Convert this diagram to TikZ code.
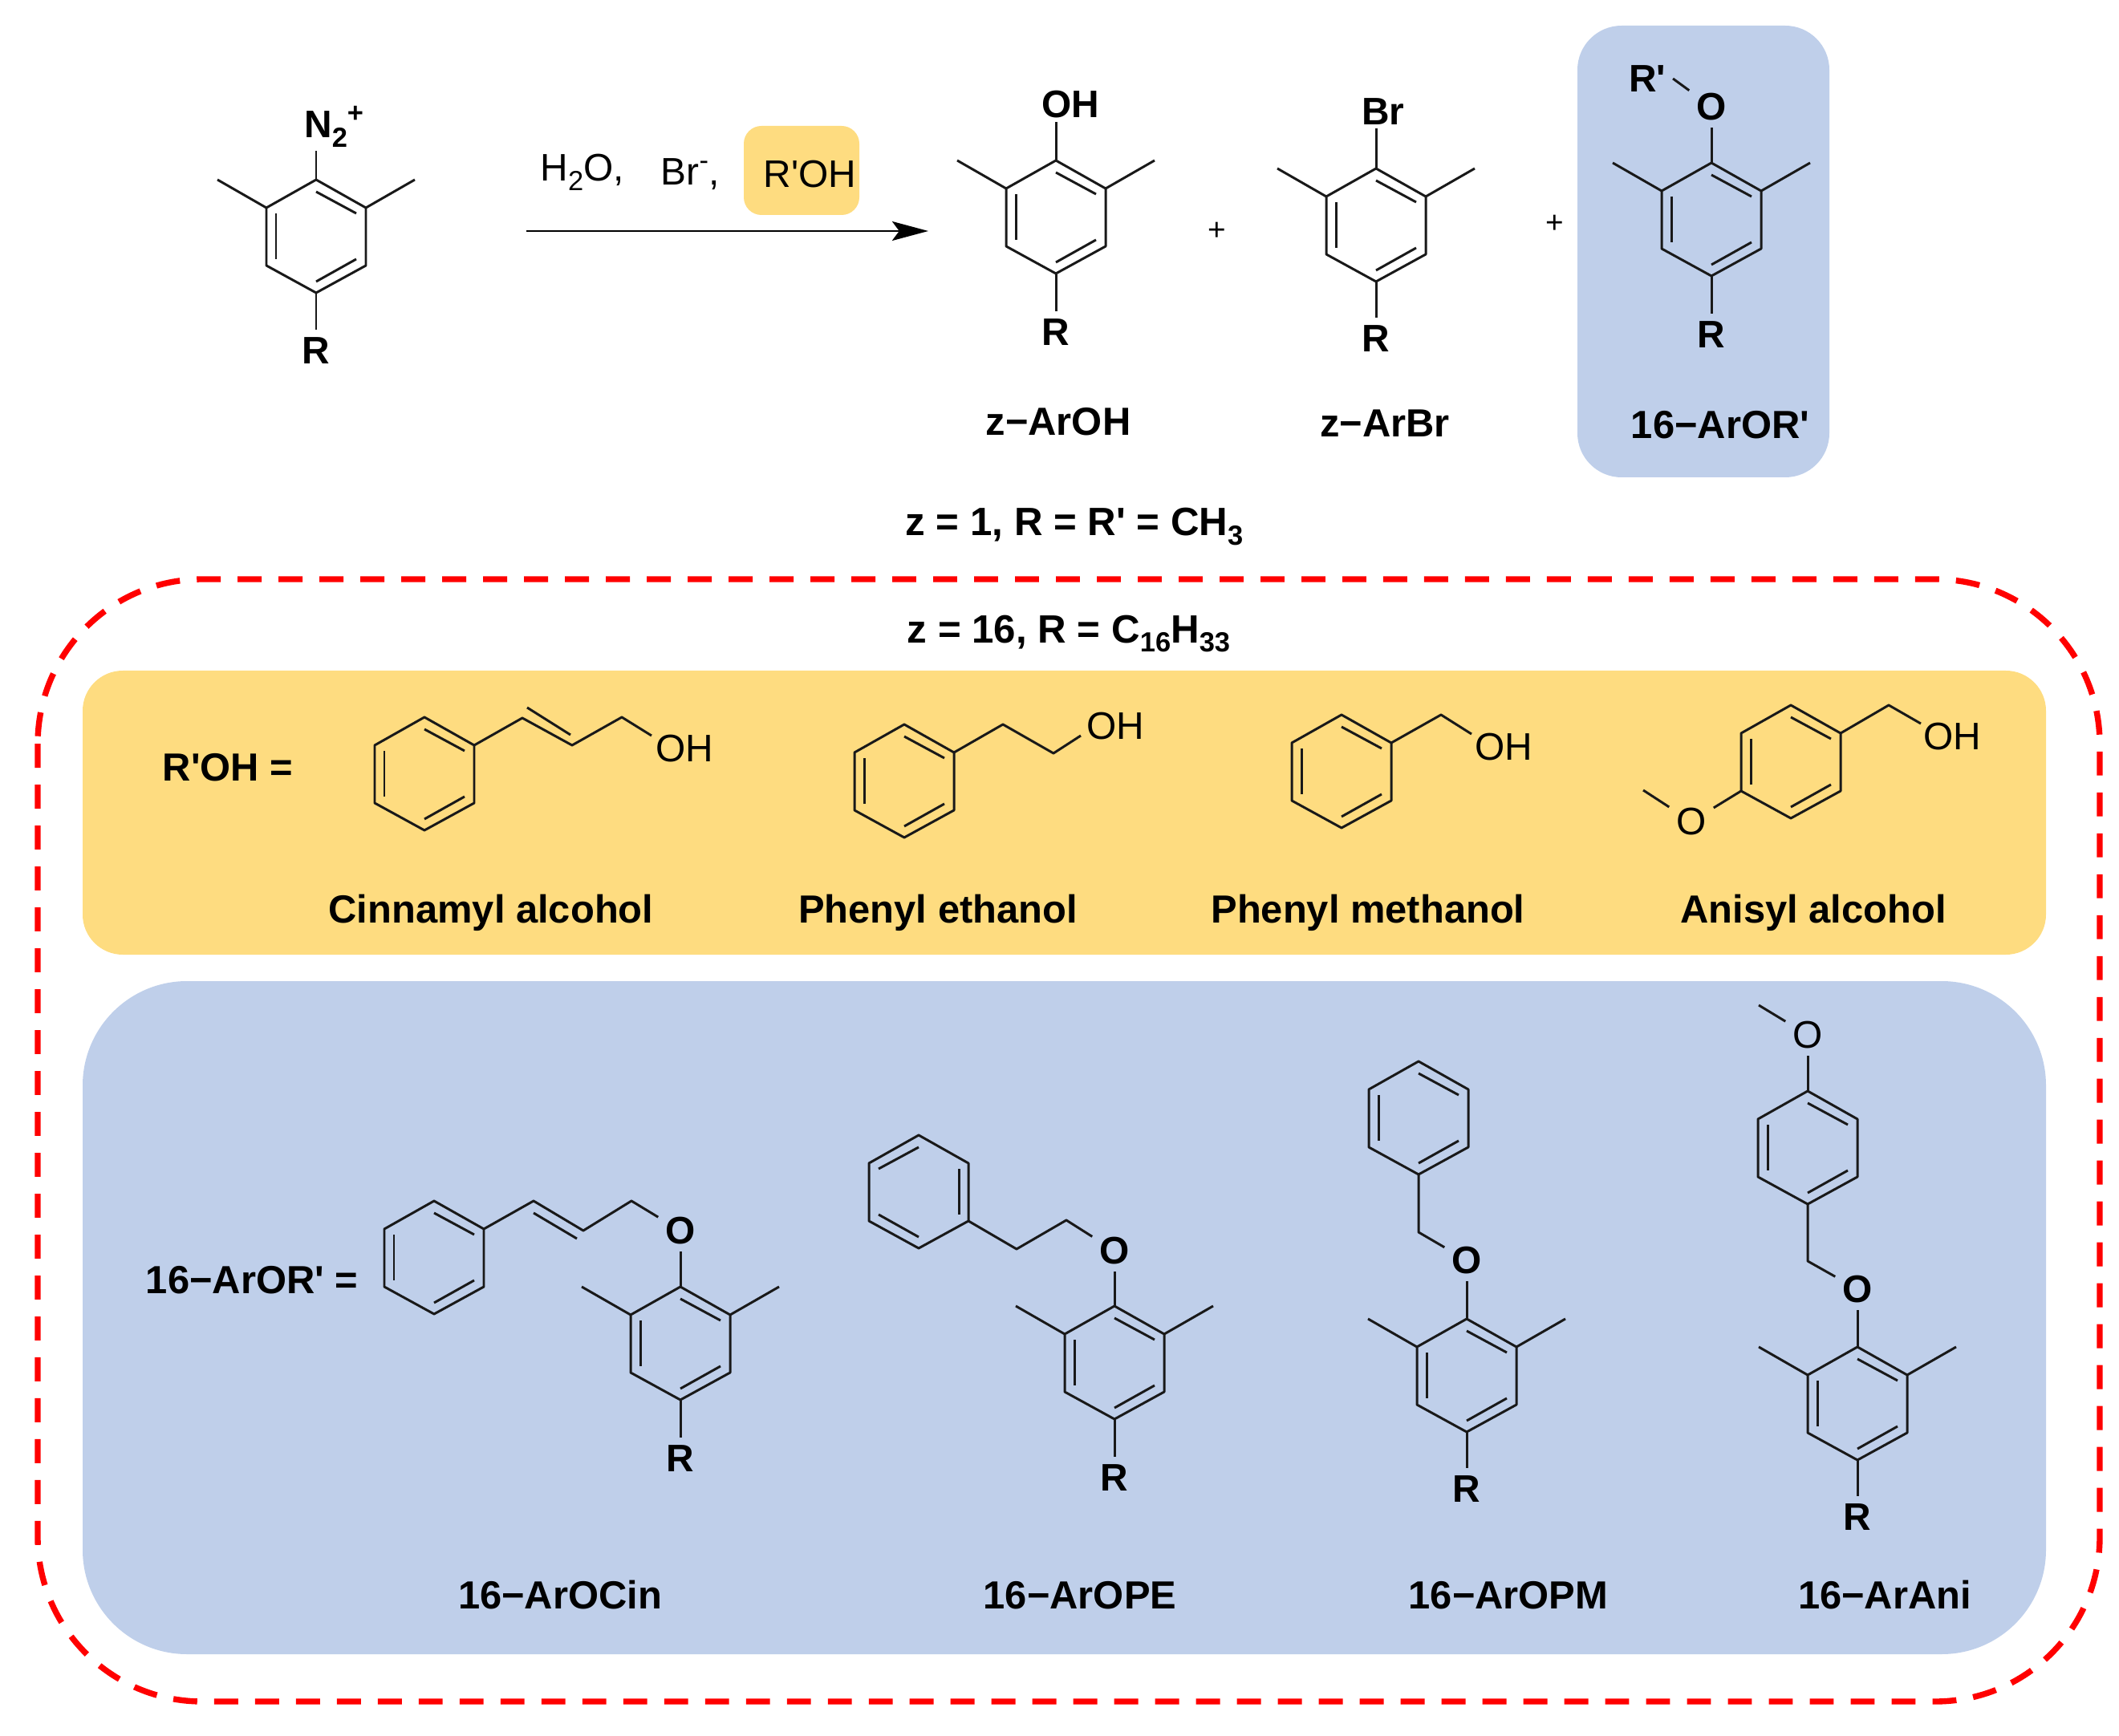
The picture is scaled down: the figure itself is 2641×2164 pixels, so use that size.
\documentclass[tikz,border=0pt]{standalone}
\usepackage{fontspec}
\setmainfont{Liberation Sans}[Ligatures=TeXOff]
\usetikzlibrary{arrows.meta}
\definecolor{panelyellow}{RGB}{254,220,128}
\definecolor{panelblue}{RGB}{191,207,234}
\newcommand{\subs}[1]{\raisebox{-3.4pt}{\fontsize{9.8pt}{10pt}\selectfont #1}}
\newcommand{\sups}[1]{\raisebox{5.5pt}{\fontsize{9.8pt}{10pt}\selectfont #1}}
\tikzset
{
	bond/.style = {line width=0.85pt, line join=round, color=black!90},
	atomlab/.style = {font=\fontsize{13.6pt}{15pt}\selectfont\bfseries, inner sep=2.4pt},
	thinlab/.style = {font=\fontsize{13.6pt}{15pt}\selectfont, inner sep=2.4pt},
	namelab/.style = {font=\fontsize{13.9pt}{15pt}\selectfont\bfseries, inner sep=0pt, anchor=base},
	rxnarrow/.style = {line width=0.85pt, -{Stealth[length=12.8pt, width=6.8pt, inset=2.5pt]}},
	redframe/.style = {draw=red, line width=2.1pt, dash pattern=on 8.5pt off 6pt, rounded corners=2.05cm},
	benzring/.pic = {
		\coordinate (-top) at (0,0);
		\coordinate (-ur) at (62,35);
		\coordinate (-lr) at (62,107);
		\coordinate (-bot) at (0,141);
		\coordinate (-ll) at (-62,107);
		\coordinate (-ul) at (-62,35);
		\draw[bond] (-top) -- (-ur) -- (-lr) -- (-bot) -- (-ll) -- (-ul) -- cycle;
		\draw[bond] (0,15) -- (50,42);
		\draw[bond] (50,99) -- (0,127);
		\draw[bond] (-50,42) -- (-50,99);
	},
	xylring/.pic = {
		\pic {benzring};
		\coordinate (-mr) at (123,0);
		\coordinate (-ml) at (-123,0);
		\draw[bond] (-ur) -- (-mr);
		\draw[bond] (-ul) -- (-ml);
	}
}

\begin{document}
\begin{tikzpicture}[x=0.01cm, y=-0.01cm]
\useasboundingbox (0,0) rectangle (2641,2164);

% panels
\fill[panelblue, rounded corners=0.55cm] (1966,32) rectangle (2280,595);
\fill[panelyellow, rounded corners=0.22cm] (927,157) rectangle (1071,268);
\fill[panelyellow, rounded corners=0.5cm] (103,836) rectangle (2550,1190);
\fill[panelblue, rounded corners=1.3cm] (103,1223) rectangle (2550,2062);
\path[redframe] (47,722) rectangle (2617,2121);

% diazonium salt
\pic (diaz) at (394,224) {xylring};
\node[atomlab, anchor=base west, inner sep=1pt] (diazN) at (375,172) {N\subs{2}\sups{+}};
\node[atomlab] (diazR) at (394,437) {R};
\draw[bond] (diaz-top) -- (diaz-top |- diazN.south);
\draw[bond] (diaz-bot) -- (diazR);

% reaction arrow
\coordinate (arrowstart) at (656,288);
\coordinate (arrowend) at (1157,288);
\draw[rxnarrow] (arrowstart) -- (arrowend);
\node[thinlab, anchor=base west, inner sep=0pt] (water) at (673,226) {H\subs{2}O,};
\node[thinlab, anchor=base west, inner sep=0pt] (bromide) at (823,231) {Br\sups{-},};
\node[thinlab, anchor=base west, inner sep=0pt] (alcohol) at (951,234) {R'OH};

% products
\pic (phenol) at (1316,200) {xylring};
\node[atomlab, anchor=base, inner sep=1pt] (phenolOH) at (1334,147) {OH};
\node[atomlab] (phenolR) at (1316,414) {R};
\draw[bond] (phenol-top) -- (phenol-top |- phenolOH.south);
\draw[bond] (phenol-bot) -- (phenolR);
\node[namelab] (phenolname) at (1319,543) {z−ArOH};
\node[thinlab, font=\fontsize{11pt}{12pt}\selectfont] (plusone) at (1517,288) {+};

\pic (brom) at (1715,210) {xylring};
\node[atomlab, anchor=base, inner sep=1pt] (bromBr) at (1724,156) {Br};
\node[atomlab] (bromR) at (1715,422) {R};
\draw[bond] (brom-top) -- (brom-top |- bromBr.south);
\draw[bond] (brom-bot) -- (bromR);
\node[namelab] (bromname) at (1726,545) {z−ArBr};
\node[thinlab, font=\fontsize{11pt}{12pt}\selectfont] (plustwo) at (1938,279) {+};

\pic (ether) at (2133,203) {xylring};
\node[atomlab] (etherO) at (2133,133) {O};
\node[atomlab] (etherRp) at (2053,98) {R'};
\node[atomlab] (etherR) at (2133,417) {R};
\draw[bond] (ether-top) -- (etherO);
\draw[bond] (etherRp.east) -- (etherO);
\draw[bond] (ether-bot) -- (etherR);
\node[namelab] (ethername) at (2144,547) {16−ArOR'};

\node[namelab, font=\fontsize{14pt}{15pt}\selectfont\bfseries] (zone) at (1339,668) {z = 1, R = R' = CH\subs{3}};
\node[namelab, font=\fontsize{14pt}{15pt}\selectfont\bfseries] (zsixteen) at (1332,801) {z = 16, R = C\subs{16}H\subs{33}};

% alcohols
\node[namelab] (roheq) at (284,973) {R'OH =};
\pic (cinph) at (529,894) {benzring};
\coordinate (cina) at (651,895);
\coordinate (cinb) at (713,929);
\coordinate (cinc) at (775,894);
\coordinate (cind) at (812,917);
\coordinate (cine) at (657,882);
\coordinate (cinf) at (711,916);
\draw[bond] (cinph-ur) -- (cina) -- (cinb) -- (cinc) -- (cind);
\draw[bond] (cine) -- (cinf);
\node[thinlab, anchor=base west, inner sep=0pt] (cinOH) at (817,949) {OH};
\node[namelab] (cinname) at (612,1150) {Cinnamyl alcohol};

\pic (peph) at (1127,903) {benzring};
\coordinate (pea) at (1250,903);
\coordinate (peb) at (1313,939);
\coordinate (pec) at (1347,917);
\draw[bond] (peph-ur) -- (pea) -- (peb) -- (pec);
\node[thinlab, anchor=base west, inner sep=0pt] (peOH) at (1354,922) {OH};
\node[namelab] (pename) at (1169,1150) {Phenyl ethanol};

\pic (pmph) at (1672,891) {benzring};
\coordinate (pma) at (1796,891);
\coordinate (pmb) at (1834,915);
\draw[bond] (pmph-ur) -- (pma) -- (pmb);
\node[thinlab, anchor=base west, inner sep=0pt] (pmOH) at (1838,947) {OH};
\node[namelab] (pmname) at (1705,1150) {Phenyl methanol};

\pic (anph) at (2232,879) {benzring};
\coordinate (ana) at (2354,879);
\coordinate (anb) at (2394,902);
\coordinate (anc) at (2048,985);
\draw[bond] (anph-ur) -- (ana) -- (anb);
\node[thinlab, anchor=base west, inner sep=0pt] (anOH) at (2397,934) {OH};
\node[thinlab] (anO) at (2108,1024) {O};
\draw[bond] (anph-ll) -- (anO);
\draw[bond] (anc) -- (anO);
\node[namelab] (anname) at (2260,1150) {Anisyl alcohol};

% ethers
\node[namelab] (oreq) at (314,1612) {16−ArOR' =};

\pic (ocph) at (541,1497) {benzring};
\coordinate (oca) at (665,1497);
\coordinate (ocb) at (727,1534);
\coordinate (occ) at (787,1497);
\coordinate (ocd) at (665,1512);
\coordinate (oce) at (719,1544);
\pic (ocar) at (848,1604) {xylring};
\node[atomlab] (ocO) at (848,1534) {O};
\node[atomlab] (ocR) at (848,1818) {R};
\draw[bond] (ocph-ur) -- (oca) -- (ocb) -- (occ) -- (ocO);
\draw[bond] (ocd) -- (oce);
\draw[bond] (ocar-top) -- (ocO);
\draw[bond] (ocar-bot) -- (ocR);
\node[namelab] (ocname) at (698,2005) {16−ArOCin};

\pic[xscale=-1] (opeph) at (1145,1415) {benzring};
\coordinate (opea) at (1267,1557);
\coordinate (opeb) at (1329,1521);
\pic (opear) at (1389,1628) {xylring};
\node[atomlab] (opeO) at (1389,1559) {O};
\node[atomlab] (opeR) at (1389,1842) {R};
\draw[bond] (opeph-ll) -- (opea) -- (opeb) -- (opeO);
\draw[bond] (opear-top) -- (opeO);
\draw[bond] (opear-bot) -- (opeR);
\node[namelab] (opename) at (1346,2005) {16−ArOPE};

\pic (opmph) at (1768,1323) {benzring};
\coordinate (opma) at (1768,1536);
\pic (opmar) at (1828,1644) {xylring};
\node[atomlab] (opmO) at (1828,1571) {O};
\node[atomlab] (opmR) at (1828,1856) {R};
\draw[bond] (opmph-bot) -- (opma) -- (opmO);
\draw[bond] (opmar-top) -- (opmO);
\draw[bond] (opmar-bot) -- (opmR);
\node[namelab] (opmname) at (1880,2005) {16−ArOPM};

\pic (aniph) at (2253,1360) {benzring};
\coordinate (anime) at (2192,1253);
\coordinate (anilk) at (2253,1572);
\pic (aniar) at (2315,1679) {xylring};
\node[thinlab] (aniOme) at (2253,1290) {O};
\node[atomlab] (aniO) at (2315,1607) {O};
\node[atomlab] (aniR) at (2315,1891) {R};
\draw[bond] (anime) -- (aniOme);
\draw[bond] (aniph-top) -- (aniOme);
\draw[bond] (aniph-bot) -- (anilk) -- (aniO);
\draw[bond] (aniar-top) -- (aniO);
\draw[bond] (aniar-bot) -- (aniR);
\node[namelab] (aniname) at (2349,2005) {16−ArAni};
\end{tikzpicture}
\end{document}
